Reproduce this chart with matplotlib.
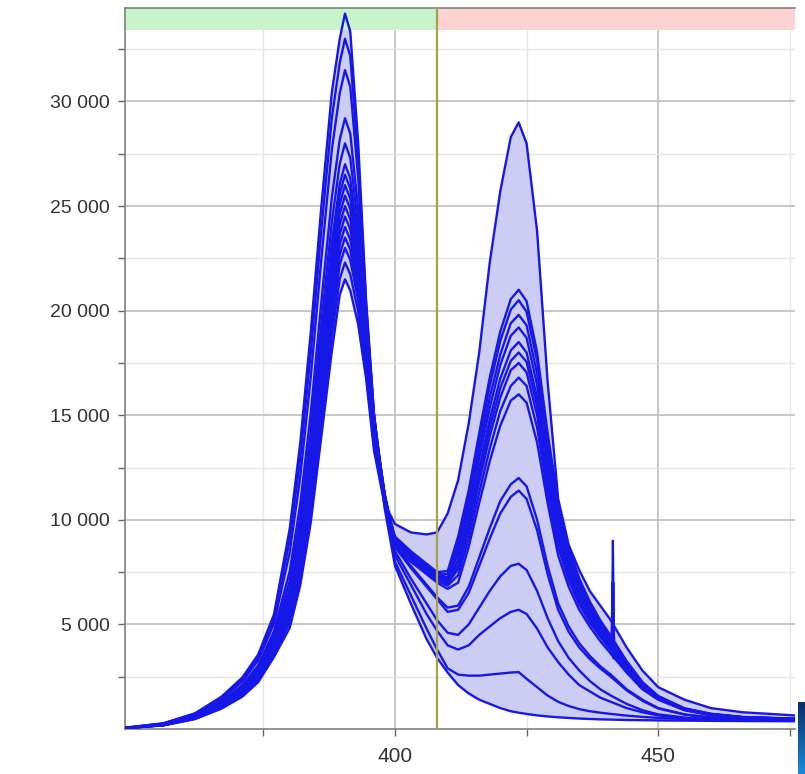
import numpy as np
import matplotlib
matplotlib.use("Agg")
import matplotlib.pyplot as plt
from matplotlib.ticker import FixedLocator, FuncFormatter
from matplotlib.colors import LinearSegmentedColormap

plt.rcParams['font.family'] = ['Liberation Sans', 'DejaVu Sans']

# wavelength grid (nm)
wavelength = [349, 356, 362, 367, 371, 374, 377, 380, 382, 384, 386, 388, 389.5, 390.5, 391.5, 393, 394.5,
              396, 398,
              400, 403, 406, 408, 410, 412, 414, 416, 418, 420, 422, 423.5, 425, 427, 429, 431, 433, 435,
              437, 439, 441, 444, 447, 450, 455, 460, 466, 476]

# spectra (counts)
s01 = [68, 274, 752, 1539, 2462, 3557, 5472, 9576, 13680, 18981, 24966, 30438, 33003, 34200, 33345, 28044, 20520, 15048, 10602,
       7800, 6000, 4300, 3400, 2700, 2100, 1700, 1400, 1200, 1000, 850, 780, 720, 650, 600, 560, 530, 500, 480, 460, 450, 430, 420, 410, 400, 390, 380, 370]
s02 = [66, 264, 726, 1485, 2376, 3432, 5280, 9068, 12953, 18021, 23843, 29215, 31845, 33000, 32175, 27308, 20361, 15081, 10820,
       8000, 6400, 4800, 3800, 2900, 2600, 2550, 2550, 2600, 2650, 2700, 2720, 2400, 2000, 1600, 1300, 1100, 950, 850, 780, 720, 640, 580, 530, 480, 440, 410, 390]
s03 = [63, 252, 693, 1418, 2268, 3276, 5040, 8451, 12065, 16846, 22460, 27700, 30398, 31500, 30713, 26366, 20107, 15067, 11041,
       8300, 6900, 5500, 4700, 4000, 3800, 4000, 4500, 4900, 5300, 5600, 5700, 5500, 4800, 3900, 3200, 2600, 2100, 1800, 1500, 1300, 1000, 800, 650, 520, 460, 420, 400]
s04 = [58, 234, 642, 1314, 2102, 3037, 4672, 7542, 10760, 15114, 20396, 25413, 28178, 29200, 28470, 24864, 19590, 14918, 11238,
       8500, 7200, 6000, 5200, 4600, 4500, 5000, 5800, 6600, 7300, 7800, 7900, 7600, 6600, 5300, 4200, 3400, 2800, 2300, 1900, 1600, 1200, 900, 700, 550, 470, 430, 400]
s05 = [56, 224, 616, 1260, 2016, 2912, 4480, 7090, 10108, 14241, 19348, 24237, 27020, 28000, 27300, 24052, 19258, 14778, 11276,
       8700, 7700, 6800, 6200, 5600, 5700, 6500, 7800, 9100, 10300, 11100, 11400, 11000, 9500, 7400, 5700, 4650, 3900, 3350, 2900, 2500, 1850, 1350, 980, 690, 540, 470, 425]
s06 = [54, 216, 594, 1215, 1944, 2808, 4320, 6718, 9574, 13530, 18484, 23266, 26055, 27000, 26325, 23366, 18957, 14637, 11278,
       8800, 7800, 6900, 6300, 5800, 5900, 6800, 8200, 9600, 10900, 11700, 12000, 11600, 10000, 7800, 6000, 4900, 4100, 3500, 3000, 2600, 1900, 1400, 1000, 700, 550, 480, 430]
s07 = [53, 212, 583, 1193, 1908, 2756, 4240, 6538, 9315, 13181, 18060, 22782, 25573, 26500, 25838, 23015, 18791, 14551, 11265,
       8700, 8000, 7400, 7000, 6700, 7000, 8700, 10800, 12800, 14500, 15700, 16000, 15600, 13700, 10800, 8300, 6800, 5700, 4900, 4200, 3600, 2700, 1900, 1400, 900, 650, 530, 460]
s08 = [52, 208, 572, 1170, 1872, 2704, 4160, 6357, 9056, 12834, 17636, 22300, 25090, 26000, 25350, 22664, 18624, 14464, 11250,
       8800, 8100, 7500, 7100, 6850, 7350, 9100, 11300, 13400, 15200, 16400, 16800, 16400, 14400, 11300, 8700, 7100, 5950, 5100, 4400, 3750, 2800, 1950, 1420, 910, 670, 540, 465]
s09 = [51, 204, 561, 1148, 1836, 2652, 4080, 6179, 8803, 12492, 17218, 21823, 24608, 25500, 24863, 22307, 18444, 14364, 11225,
       8900, 8200, 7600, 7200, 6950, 7650, 9500, 11800, 14000, 15850, 17150, 17500, 17050, 15000, 11800, 9050, 7350, 6150, 5250, 4500, 3850, 2850, 2000, 1450, 930, 680, 550, 470]
s10 = [50, 200, 550, 1125, 1800, 2600, 4000, 6005, 8553, 12155, 16803, 21345, 24125, 25000, 24375, 21948, 18258, 14258, 11190,
       8950, 8250, 7650, 7250, 7000, 7850, 9750, 12150, 14400, 16300, 17600, 18000, 17550, 15450, 12150, 9300, 7550, 6300, 5400, 4600, 3950, 2900, 2050, 1480, 940, 690, 555, 475]
s11 = [49, 196, 539, 1103, 1764, 2548, 3920, 5831, 8303, 11819, 16388, 20869, 23643, 24500, 23888, 21587, 18069, 14149, 11152,
       9000, 8300, 7700, 7300, 7050, 8100, 10000, 12450, 14800, 16750, 18100, 18500, 18000, 15850, 12450, 9550, 7700, 6450, 5500, 4700, 4000, 2950, 2080, 1490, 945, 695, 558, 478]
s12 = [48, 192, 528, 1080, 1728, 2496, 3840, 5659, 8059, 11489, 15979, 20398, 23160, 24000, 23400, 21221, 17868, 14028, 11102,
       9050, 8350, 7750, 7350, 7150, 8400, 10400, 12950, 15350, 17400, 18800, 19200, 18700, 16450, 12950, 9900, 7950, 6650, 5650, 4850, 4150, 3050, 2120, 1510, 960, 705, 562, 482]
s13 = [47, 188, 517, 1058, 1692, 2444, 3760, 5490, 7816, 11160, 15571, 19926, 22678, 23500, 22913, 20854, 17665, 13905, 11050,
       9100, 8400, 7800, 7400, 7250, 8650, 10750, 13350, 15850, 17900, 19400, 19800, 19300, 17000, 13350, 10200, 8200, 6850, 5800, 4950, 4250, 3100, 2150, 1530, 970, 710, 565, 485]
s14 = [46, 184, 506, 1035, 1656, 2392, 3680, 5325, 7576, 10838, 15166, 19456, 22195, 23000, 22425, 20484, 17452, 13772, 10985,
       9150, 8450, 7850, 7450, 7400, 8950, 11100, 13800, 16400, 18550, 20050, 20500, 19950, 17600, 13800, 10600, 8500, 7050, 5950, 5100, 4350, 3200, 2200, 1560, 980, 720, 570, 490]
s15 = [45, 178, 491, 1004, 1606, 2319, 3568, 5096, 7248, 10392, 14607, 18803, 21520, 22300, 21743, 19959, 17142, 13574, 10882,
       9200, 8500, 7900, 7500, 7550, 9200, 11400, 14150, 16800, 19000, 20550, 21000, 20450, 18000, 14150, 10850, 8700, 7200, 6100, 5200, 4450, 3250, 2250, 1580, 990, 730, 575, 495]
s16 = [43, 172, 473, 968, 1548, 2236, 3440, 4838, 6880, 9890, 13975, 18060, 20748, 21500, 20963, 19350, 16770, 13330, 10750,
       9800, 9400, 9300, 9400, 10300, 11900, 14600, 18000, 22300, 25700, 28300, 29000, 28000, 23800, 16600, 11000, 8800, 7600, 6600, 5900, 5200, 3900, 2800, 2000, 1400, 1000, 800, 650]

# narrow spike near 441 nm
spike_wl = [441.2, 441.4, 441.6]
spike_a = [4200, 9000, 4000]
spike_b = [3600, 7000, 3400]

# marker line and regions
marker_wl = 408
region_split = 408

spectra = [s01, s02, s03, s04, s05, s06, s07, s08, s09, s10, s11, s12, s13, s14, s15, s16]

W, H = 805, 774
fig = plt.figure(figsize=(W / 100, H / 100), dpi=100)
ax = fig.add_axes([125 / W, 1 - 729 / H, (795 - 125) / W, (729 - 8) / H])

xlo, xhi = 348.7, 476.0
ylo, yhi = 0, 34470
ax.set_xlim(xlo, xhi)
ax.set_ylim(ylo, yhi)

wl = np.array(wavelength)
arr = np.array(spectra, dtype=float)
ax.fill_between(wl, arr.min(axis=0), arr.max(axis=0), color='#cdcdf3', zorder=1, linewidth=0)

line_col = '#1717e8'
for s in spectra:
    ax.plot(wl, s, color=line_col, lw=1.7, zorder=3, solid_joinstyle='round')
ax.plot(spike_wl, spike_a, color=line_col, lw=1.6, zorder=3)
ax.plot(spike_wl, spike_b, color=line_col, lw=2.2, zorder=3)

# grid
ax.xaxis.set_major_locator(FixedLocator([400, 450]))
ax.xaxis.set_minor_locator(FixedLocator([375, 425, 475]))
ax.yaxis.set_major_locator(FixedLocator([5000, 10000, 15000, 20000, 25000, 30000]))
ax.yaxis.set_minor_locator(FixedLocator([2500, 7500, 12500, 17500, 22500, 27500, 32500]))
ax.grid(which='major', color='#bdbdbd', lw=1.2, zorder=0)
ax.grid(which='minor', color='#e6e6e6', lw=1.0, zorder=0)
ax.set_axisbelow(True)

ax.yaxis.set_major_formatter(FuncFormatter(lambda v, p: f"{int(v):,}".replace(",", " ")))
ax.tick_params(axis='both', which='both', direction='out', colors='#666666', labelcolor='#333333')
ax.tick_params(axis='y', which='major', length=5, width=1, pad=6, labelsize=14)
ax.tick_params(axis='y', which='minor', length=5, width=1)
ax.tick_params(axis='x', which='major', length=5, width=1, pad=8, labelsize=15)
ax.tick_params(axis='x', which='minor', length=5, width=1)

for side in ['left', 'bottom', 'top']:
    ax.spines[side].set_color('#808080')
    ax.spines[side].set_linewidth(1.2)
ax.spines['right'].set_visible(False)

# region bands at top
band_frac = 22 / 721
ax.axvspan(xlo, region_split, ymin=1 - band_frac, ymax=1, color='#c9f3c9', zorder=2, lw=0)
ax.axvspan(region_split, xhi, ymin=1 - band_frac, ymax=1, color='#fbd3d3', zorder=2, lw=0)

# marker line
ax.axvline(marker_wl, color='#a3a34a', lw=1.6, zorder=4)

# partial colour bar at the right edge
cax = fig.add_axes([798 / W, 0, 7 / W, 72 / H])
grad = np.linspace(0, 1, 64).reshape(-1, 1)
cm = LinearSegmentedColormap.from_list('edge', ['#1a8ad8', '#08306b'])
cax.imshow(grad, aspect='auto', cmap=cm, origin='lower')
cax.axis('off')

fig.savefig('out.png', dpi=100)
